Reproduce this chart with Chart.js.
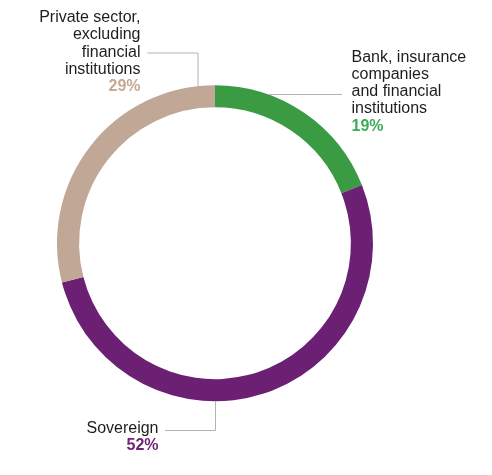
<!DOCTYPE html>
<html><head><meta charset="utf-8">
<script src="https://cdn.jsdelivr.net/npm/chart.js@4"></script>
<style>html,body{margin:0;padding:0;background:#fff;}canvas{display:block;}</style>
</head><body>
<canvas id="c" width="492" height="475"></canvas>
<script>
const categories = ["Bank, insurance companies and financial institutions", "Sovereign", "Private sector, excluding financial institutions"];
const values = [19, 52, 29];
const ringColors = ["#3a9b42", "#6b2073", "#c0a796"];
const labelColors = ["#3dab57", "#6f2477", "#c6a993"];
const labelLines = [
  ["Bank, insurance", "companies", "and financial", "institutions"],
  ["Sovereign"],
  ["Private sector,", "excluding", "financial", "institutions"]
];

const FONT = '16px "Liberation Sans", Arial, sans-serif';
const BOLD = 'bold 16px "Liberation Sans", Arial, sans-serif';
const LH = 17.3;

const labelPlugin = {
  id: 'labels',
  afterDatasetsDraw(chart) {
    const ctx = chart.ctx;
    const arcs = chart.getDatasetMeta(0).data;
    const a0 = arcs[0];
    const cx = a0.x, cy = a0.y, R = a0.outerRadius;
    ctx.save();
    ctx.strokeStyle = '#b3b3b3';
    ctx.lineWidth = 1;
    // Private sector leader
    ctx.beginPath();
    const px = cx - 17.5;
    ctx.moveTo(px + 0.5, cy - Math.sqrt(R*R - 17.5*17.5));
    ctx.lineTo(px + 0.5, 53);
    ctx.lineTo(147.5, 53);
    ctx.stroke();
    // Bank leader
    ctx.beginPath();
    const by = 94.5;
    ctx.moveTo(cx + Math.sqrt(Math.max(0, R*R - (cy-by)*(cy-by))), by);
    ctx.lineTo(342, by);
    ctx.stroke();
    // Sovereign leader
    ctx.beginPath();
    ctx.moveTo(Math.round(cx) + 0.5, cy + R);
    ctx.lineTo(Math.round(cx) + 0.5, 430.5);
    ctx.lineTo(165, 430.5);
    ctx.stroke();

    ctx.textBaseline = 'alphabetic';
    function block(i, x, y0, align) {
      ctx.textAlign = align;
      ctx.font = FONT;
      ctx.fillStyle = '#1e1e1e';
      labelLines[i].forEach((t, k) => ctx.fillText(t, x, y0 + k * LH));
      ctx.font = BOLD;
      ctx.fillStyle = labelColors[i];
      ctx.fillText(values[i] + '%', x, y0 + labelLines[i].length * LH);
    }
    block(2, 140.5, 22, 'right');
    block(0, 351.5, 61.5, 'left');
    block(1, 158.5, 432.5, 'right');
    ctx.restore();
  }
};

new Chart(document.getElementById('c'), {
  type: 'doughnut',
  data: {
    labels: categories,
    datasets: [{
      data: values,
      backgroundColor: ringColors,
      borderWidth: 0,
      hoverOffset: 0
    }]
  },
  options: {
    responsive: false,
    animation: false,
    cutout: '86%',
    layout: { padding: { left: 57, right: 119, top: 85, bottom: 73.5 } },
    plugins: { legend: { display: false }, tooltip: { enabled: false } }
  },
  plugins: [labelPlugin]
});
</script>
</body></html>
